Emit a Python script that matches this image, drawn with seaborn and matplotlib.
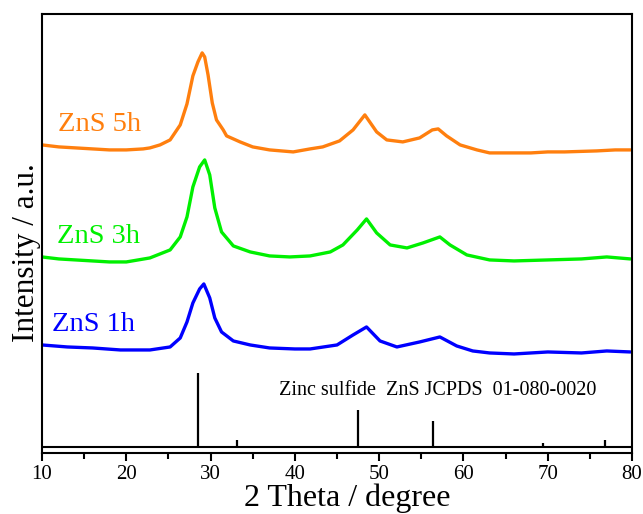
import matplotlib
matplotlib.use("Agg")
import matplotlib.pyplot as plt
import numpy as np
import pandas as pd
import seaborn as sns

# 2-theta positions (degree) and stacked intensities (a.u.)
theta_5h = [10, 12, 14, 16, 18, 20, 22, 22.8, 24, 25.2, 26.4, 27.2, 27.9, 28.5, 29.0,
            29.3, 29.7, 30.2, 30.7, 31.5, 31.9, 33.5, 35, 37, 39.8, 41.8, 43.3, 45.3,
            46.9, 48.3, 49.7, 50.9, 52.8, 54.8, 56.3, 57, 58, 59.6, 61.6, 63.1, 66,
            68, 70, 72, 75.8, 78, 79.8]
int_5h = [308, 306, 305, 304, 303, 303, 304, 305, 308, 313, 328, 349, 377, 391, 400,
          396, 378, 350, 333, 323, 317, 311, 306, 303, 301, 304, 306, 312,
          323, 338, 321, 313, 311, 315, 323, 324, 317, 308, 303, 300, 300,
          300, 301, 301, 302, 303, 303]

theta_3h = [10, 12, 14, 16, 18, 20, 22.8, 25.2, 26.4, 27.2, 27.9, 28.7, 29.3, 29.9,
            30.5, 31.3, 32.7, 34.7, 37, 39.4, 41.8, 44.2, 45.7, 47.4, 48.5, 49.7,
            51.3, 53.3, 55.2, 57.2, 58.4, 60.4, 63.1, 66, 70, 74, 77, 79.8]
int_3h = [196, 194, 193, 192, 191, 191, 195, 203, 216, 236, 266, 286, 293, 278,
          245, 221, 207, 201, 197, 196, 197, 201, 208, 223, 234, 220,
          208, 205, 210, 216, 208, 198, 193, 192, 193, 194, 196, 194]

theta_1h = [10, 13, 16, 19.3, 22.8, 25.2, 26.4, 27.2, 27.9, 28.7, 29.2, 29.9, 30.5,
            31.3, 32.7, 34.7, 37, 40, 41.8, 45, 46.9, 48.5, 50.1, 52.1, 54.8, 57.2,
            59.2, 61.1, 63.1, 66, 70, 74, 77, 79.8]
int_1h = [108, 106, 105, 103, 103, 106, 115, 131, 150, 164, 169, 155, 135,
          121, 112, 108, 105, 104, 104, 108, 118, 126, 112, 106, 111, 116,
          107, 102, 100, 99, 101, 100, 102, 101]

# reference pattern ZnS JCPDS 01-080-0020
ref_theta = [28.56, 33.09, 47.52, 56.39, 69.43, 76.76]
ref_height = [74, 7, 37, 26, 4, 7]
ref_base = 6

samples = ["ZnS 5h", "ZnS 3h", "ZnS 1h"]
colors = ["#FF7F0E", "#00F000", "#0000FF"]
label_pos = [(11.9, 328), (11.8, 216), (11.2, 128)]

sns.set_style("ticks")
plt.rcParams["font.family"] = ["Liberation Serif", "DejaVu Serif"]
plt.rcParams["text.color"] = "black"
plt.rcParams["axes.labelcolor"] = "black"

fig, ax = plt.subplots(figsize=(6.43, 5.14), dpi=100)
fig.subplots_adjust(left=0.0653, right=0.983, top=0.973, bottom=0.1187)

curves = [(theta_5h, int_5h), (theta_3h, int_3h), (theta_1h, int_1h)]
for (tx, iy), name, c in zip(curves, samples, colors):
    df = pd.DataFrame({"theta": tx, "intensity": iy})
    sns.lineplot(data=df, x="theta", y="intensity", color=c, linewidth=2.4,
                 estimator=None, sort=False, ax=ax)

for name, c, (lx, ly) in zip(samples, colors, label_pos):
    ax.text(lx, ly, name, color=c, fontsize=20.5, va="center", ha="left")

# reference sticks
ax.axhline(ref_base, color="black", linewidth=1.5)
ax.vlines(ref_theta, ref_base, np.array(ref_height) + ref_base, color="black", linewidth=1.6)
ax.text(57.0, 62, "Zinc sulfide  ZnS JCPDS  01-080-0020", fontsize=14.5,
        ha="center", va="center", color="black")

ax.set_xlim(10, 80)
ax.set_ylim(0, 439)
ax.set_xticks(np.arange(10, 81, 10))
ax.set_xticks(np.arange(15, 80, 10), minor=True)
ax.set_yticks([])
ax.tick_params(axis="x", which="major", direction="out", length=6, width=1.5,
               labelsize=15, pad=3, colors="black")
ax.tick_params(axis="x", which="minor", direction="out", length=4, width=1.5,
               colors="black")
for s in ax.spines.values():
    s.set_linewidth(1.5)
    s.set_color("black")

ax.set_xlabel("2 Theta / degree", fontsize=23, color="black")
ax.xaxis.set_label_coords(0.518, -0.07)
ax.set_ylabel("Intensity / a.u.", fontsize=22.5, color="black")
ax.yaxis.set_label_coords(-0.001, 0.456)

fig.savefig("out.png", dpi=100)
